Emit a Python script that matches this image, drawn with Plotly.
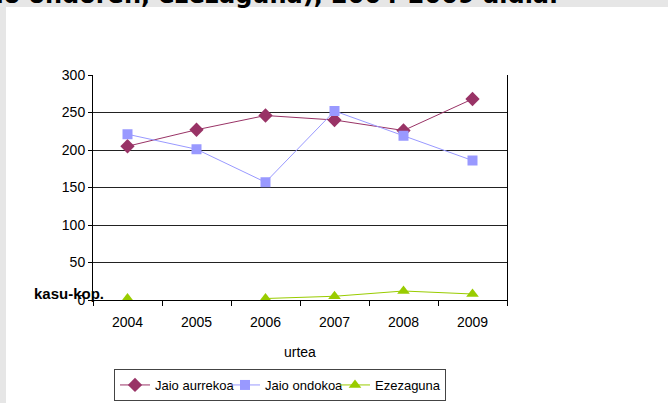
import plotly.graph_objects as go

years = ["2004", "2005", "2006", "2007", "2008", "2009"]
jaio_aurrekoa = [205, 227, 246, 240, 226, 268]
jaio_ondokoa = [221, 201, 157, 252, 219, 186]
ezezaguna = [2, None, 2, 5, 12, 8]

W, H = 668, 403
L, R, T, B = 93, 161, 75, 103
pw, ph = W - L - R, H - T - B

def px(x):
    return (x - L) / pw

def py(y):
    return (T + ph - y) / ph

FONT = "Liberation Sans, Arial, sans-serif"

fig = go.Figure()
fig.add_trace(go.Scatter(x=years, y=jaio_aurrekoa, name="Jaio aurrekoa", mode="lines+markers",
                         line=dict(color="#993366", width=1),
                         marker=dict(symbol="diamond", size=11, color="#993366")))
fig.add_trace(go.Scatter(x=years, y=jaio_ondokoa, name="Jaio ondokoa", mode="lines+markers",
                         line=dict(color="#9999FF", width=1),
                         marker=dict(symbol="square", size=10, color="#9999FF")))
fig.add_trace(go.Scatter(x=years, y=ezezaguna, name="Ezezaguna", mode="lines+markers",
                         line=dict(color="#99CC00", width=1),
                         marker=dict(symbol="triangle-up", size=11, color="#99CC00"),
                         connectgaps=False))

fig.update_layout(
    width=W, height=H,
    margin=dict(l=L, r=R, t=T, b=B, autoexpand=False),
    paper_bgcolor="#e6e6e6",
    plot_bgcolor="white",
    font=dict(family=FONT, size=14, color="black"),
    showlegend=True,
    legend=dict(orientation="h", x=px(114), y=py(385), xanchor="left", yanchor="middle",
                bordercolor="#444", borderwidth=1, bgcolor="white",
                entrywidth=65, entrywidthmode="pixels",
                font=dict(size=13, family=FONT)),
    xaxis=dict(type="category", tickson="boundaries", ticks="outside", ticklen=5,
               tickcolor="black", showline=True, linecolor="black", linewidth=1,
               showgrid=False, range=[-0.5, 5.5], ticklabelstandoff=9,
               tickfont=dict(size=14)),
    yaxis=dict(range=[0, 300], tickvals=[0, 50, 100, 150, 200, 250, 300],
               ticks="outside", ticklen=4, tickcolor="black",
               showline=True, linecolor="black", linewidth=1, mirror=True,
               showgrid=True, gridcolor="#222", gridwidth=1, zeroline=False,
               tickfont=dict(size=14)),
    shapes=[dict(type="rect", xref="paper", yref="paper", layer="below",
                 x0=px(6), x1=px(W + 20), y0=py(7), y1=py(H + 20),
                 fillcolor="white", line=dict(width=0))],
    annotations=[
        dict(text="Heriotzak (jaio aurrekoa, jaio ondoren, ezezaguna), 2004-2009 aldia.",
             xref="paper", yref="paper", x=px(560), y=py(11), xanchor="right", yanchor="bottom",
             showarrow=False, font=dict(family="DejaVu Sans, Verdana, sans-serif", size=24,
                                        color="black", weight="bold")),
        dict(text="<b>kasu-kop.</b>", xref="paper", yref="paper", x=px(32), y=py(293),
             xanchor="left", yanchor="middle", showarrow=False,
             font=dict(size=15, family=FONT)),
        dict(text="urtea", xref="paper", yref="paper", x=0.5, y=py(352),
             xanchor="center", yanchor="middle", showarrow=False,
             font=dict(size=14, family=FONT)),
    ],
)

fig.write_html("out.html")
